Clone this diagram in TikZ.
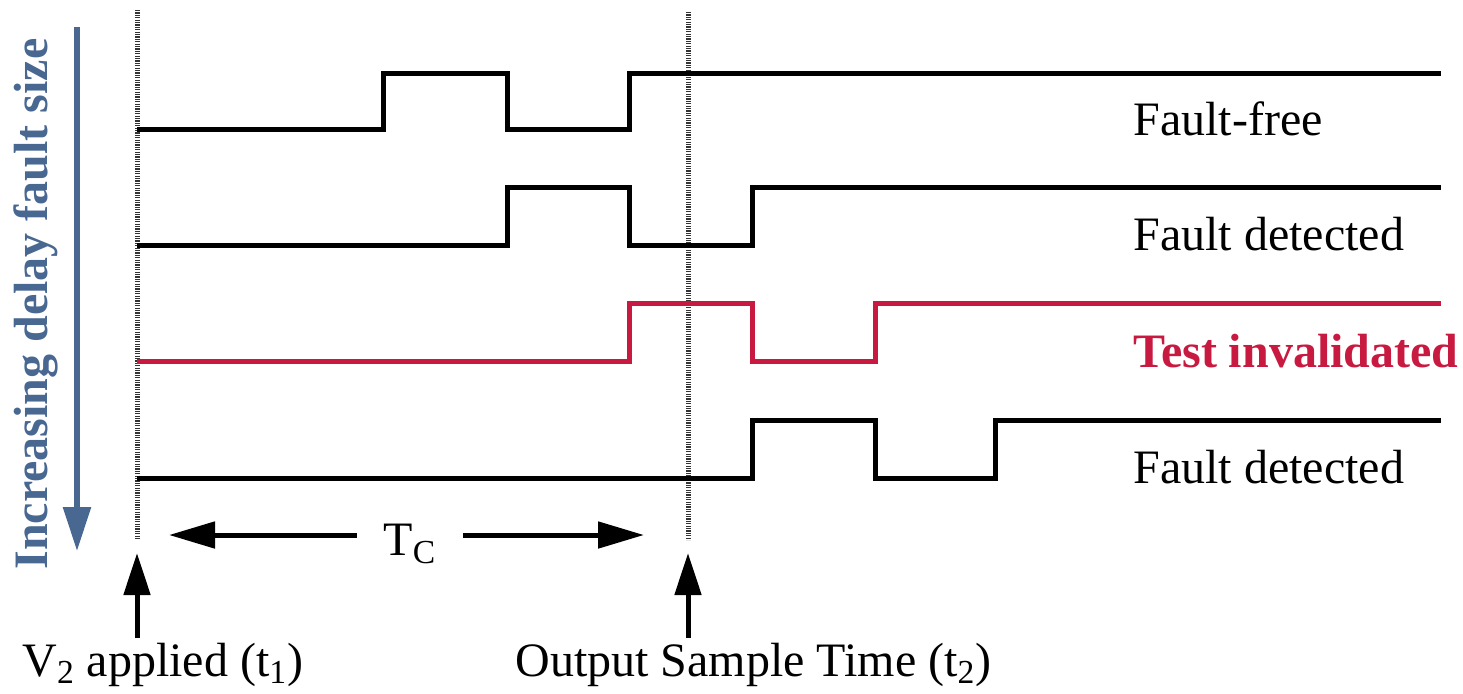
\documentclass[tikz,border=0pt]{standalone}
\usepackage{fontspec}
\setmainfont{Liberation Serif}
\usetikzlibrary{arrows.meta}
\definecolor{sizeblue}{RGB}{72,104,146}
\definecolor{invred}{RGB}{200,26,64}
\tikzset{
  wave/.style={line width=2.5pt, line join=miter},
  sampleline/.style={line width=2.5pt, black!80, dash pattern=on 0.6pt off 0.6pt},
  pointer/.style={line width=2.5pt, -{Triangle[length=21pt,width=13pt]}},
  lbl/.style={font=\fontsize{24}{28}\selectfont, inner sep=0pt},
}
\begin{document}
\begin{tikzpicture}[x=0.5pt, y=-0.5pt]
    \useasboundingbox (0,0) rectangle (1463,693);
    % sample instants
    \coordinate (t1tip) at (137,553);
    \coordinate (t1foot) at (137,638);
    \coordinate (t2tip) at (688,553);
    \coordinate (t2foot) at (688,638);
    \draw[sampleline] (137,10) -- (137,540);
    \draw[sampleline] (688,12) -- (688,540);

    % waveforms, one row per fault size
    \draw[wave] (137,129) -- (383,129) -- (383,73) -- (507,73) -- (507,129)
                -- (629,129) -- (629,73) -- (1441,73);
    \draw[wave] (137,245) -- (507,245) -- (507,187) -- (629,187) -- (629,245)
                -- (752,245) -- (752,187) -- (1441,187);
    \draw[wave, invred] (137,361) -- (629,361) -- (629,303) -- (752,303) -- (752,361)
                -- (875,361) -- (875,303) -- (1441,303);
    \draw[wave] (137,478) -- (752,478) -- (752,420) -- (875,420) -- (875,478)
                -- (995,478) -- (995,420) -- (1441,420);

    \node[lbl, anchor=base west] (ff) at (1133,135) {Fault-free};
    \node[lbl, anchor=base west] (fd1) at (1133,250) {Fault detected};
    \node[lbl, anchor=base west, text=invred, font=\fontsize{24}{28}\selectfont\bfseries] (ti) at (1133,367) {Test invalidated};
    \node[lbl, anchor=base west] (fd2) at (1133,483) {Fault detected};

    % fault size axis
    \node[lbl, rotate=90, text=sizeblue, font=\fontsize{24}{28}\selectfont\bfseries] (size) at (36,304) {Increasing delay fault size};
    \draw[line width=3pt, sizeblue, -{Triangle[length=22pt,width=13.5pt]}] (77,27) -- (77,551);

    % clock period
    \node[lbl, inner xsep=13pt] (tc) at (410,544) {T\textsubscript{C}};
    \coordinate (tcl) at (169,535);
    \coordinate (tcr) at (644,535);
    \draw[pointer, -{Triangle[length=23pt,width=13pt]}] (tc.west |- tcl) -- (tcl);
    \draw[pointer, -{Triangle[length=23pt,width=13pt]}] (tc.east |- tcr) -- (tcr);

    \draw[pointer] (t1foot) -- (t1tip);
    \draw[pointer] (t2foot) -- (t2tip);
    \node[lbl, anchor=base west] (v2) at (22,676) {V\textsubscript{2} applied (t\textsubscript{1})};
    \node[lbl, anchor=base west] (ost) at (515,676) {Output Sample Time (t\textsubscript{2})};
\end{tikzpicture}
\end{document}
